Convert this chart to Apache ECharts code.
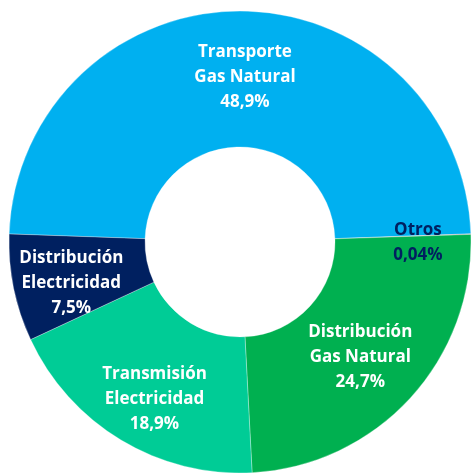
<!DOCTYPE html>
<html>
<head>
<meta charset="utf-8">
<script src="https://cdn.jsdelivr.net/npm/echarts@6/dist/echarts.min.js"></script>
<style>
  html, body { margin: 0; padding: 0; background: #fff; }
  #chart { width: 471px; height: 473px; }
</style>
</head>
<body>
<div id="chart"></div>
<script>
// participación por actividad (%)
var names = ["Transporte\nGas Natural", "Otros", "Distribución\nGas Natural", "Transmisión\nElectricidad", "Distribución\nElectricidad"];
var values = [48.9, 0.04, 24.7, 18.9, 7.5];
var colors = ["#00B0F0", "#7F7F7F", "#00B050", "#00CC96", "#002060"];
var labelColors = ["#fff", "#002060", "#fff", "#fff", "#fff"];
var labelOffsets = [[5, 1], [12, 6], [-2, 3], [0, 15], [-6, 8]];

var chart = echarts.init(document.getElementById("chart"));

var pieData = names.map(function (n, i) {
  return {
    name: n,
    value: values[i],
    itemStyle: { color: colors[i] },
    label: { color: labelColors[i], offset: labelOffsets[i] }
  };
});

chart.setOption({
  animation: false,
  series: [
    {
      type: "pie",
      center: [240, 242],
      radius: [95, 231],
      startAngle: 178,
      clockwise: true,
      avoidLabelOverlap: false,
      itemStyle: { borderColor: "#fff", borderWidth: 0.3 },
      label: {
        show: true,
        position: "inside",
        fontFamily: "Open Sans",
        fontWeight: "bold",
        fontSize: 17,
        lineHeight: 25,
        align: "center",
        formatter: function (p) {
          return p.name + "\n" + String(p.value).replace(".", ",") + "%";
        }
      },
      labelLine: { show: false },
      data: pieData
    }
  ]
});
</script>
</body>
</html>
